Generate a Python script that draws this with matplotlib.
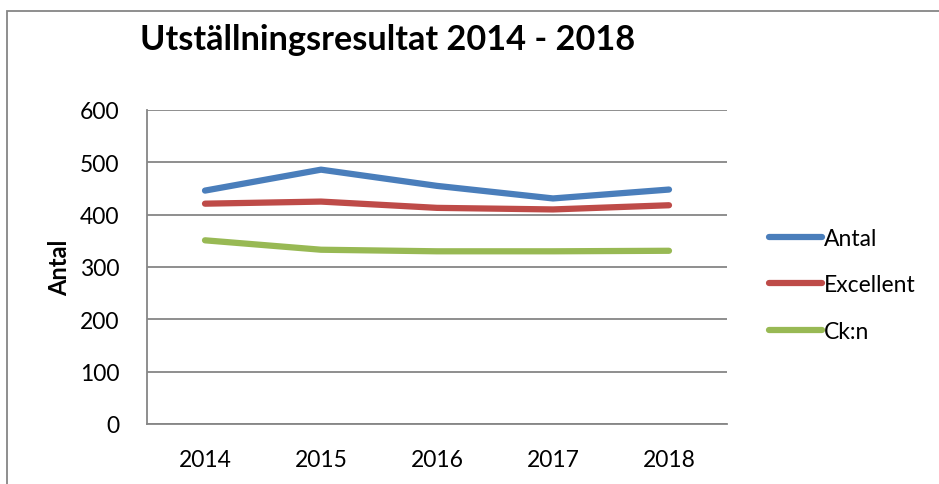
import matplotlib.pyplot as plt
from matplotlib.patches import Rectangle

years = ['2014', '2015', '2016', '2017', '2018']
antal = [446, 486, 455, 431, 448]
excellent = [421, 425, 413, 410, 418]
ckn = [351, 333, 330, 330, 331]

plt.rcParams['font.family'] = ['Lato', 'DejaVu Sans']

fig = plt.figure(figsize=(9.39, 4.85), dpi=100)
ax = fig.add_axes([147/939, 1-425/485, 580/939, 314/485])

x = range(len(years))
ax.plot(x, antal, color='#4a7ebb', lw=4.5, solid_capstyle='round', label='Antal')
ax.plot(x, excellent, color='#be4b48', lw=4.5, solid_capstyle='round', label='Excellent')
ax.plot(x, ckn, color='#98b954', lw=4.5, solid_capstyle='round', label='Ck:n')

ax.set_xlim(-0.5, 4.5)
ax.set_ylim(0, 600)
ax.set_yticks(range(0, 601, 100))
ax.set_xticks(list(x))
ax.set_xticklabels(years)
ax.tick_params(length=0, labelsize=16.5)
ax.tick_params(axis='x', pad=18)
ax.tick_params(axis='y', pad=20)
ax.grid(axis='y', color='#868686', lw=1.3)
ax.set_axisbelow(True)
for s in ['top', 'right']:
    ax.spines[s].set_visible(False)
for s in ['left', 'bottom']:
    ax.spines[s].set_color('#868686')
    ax.spines[s].set_linewidth(1.3)

ax.set_ylabel('Antal', fontsize=17, fontweight='bold', labelpad=6)
fig.text(140/939, 1-40/485, 'Utställningsresultat 2014 - 2018',
         fontsize=24.7, fontweight='bold', va='center', ha='left')

ax.legend(loc='center left', bbox_to_anchor=(1.037, 0.443), frameon=False,
          fontsize=16.5, handlelength=2.3, handletextpad=0.1, labelspacing=1.12)

fig.patches.append(Rectangle((7/939, -0.1), 1.2, 1 - 12/485 + 0.1,
                             transform=fig.transFigure, fill=False,
                             edgecolor='#868686', lw=1.3))

fig.savefig('out.png', dpi=100)
